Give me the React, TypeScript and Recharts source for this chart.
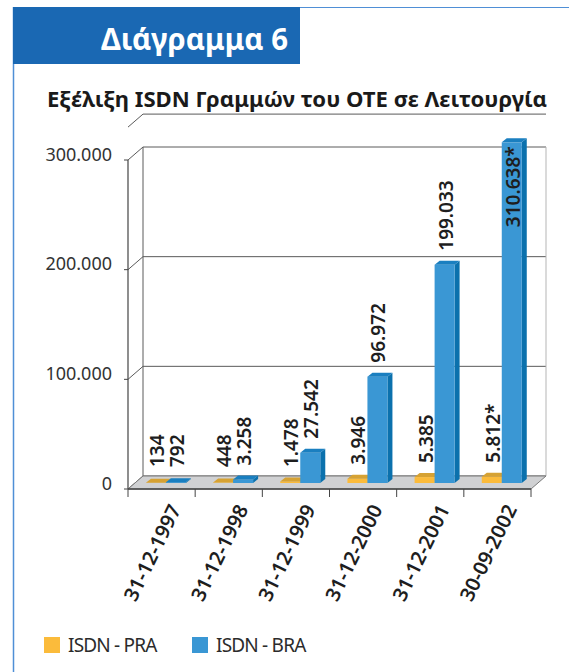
import React from 'react';
import { BarChart, Bar, XAxis, YAxis, CartesianGrid, ReferenceArea, LabelList } from 'recharts';

const categories = ['31-12-1997', '31-12-1998', '31-12-1999', '31-12-2000', '31-12-2001', '30-09-2002'];
const praValues = [134, 448, 1478, 3946, 5385, 5812];
const braValues = [792, 3258, 27542, 96972, 199033, 310638];
const praLabels = ['134', '448', '1.478', '3.946', '5.385', '5.812*'];
const braLabels = ['792', '3.258', '27.542', '96.972', '199.033', '310.638*'];
const yTicks = [0, 100000, 200000, 300000];
const yTickLabels = ['0', '100.000', '200.000', '300.000'];
const seriesNames = ['ISDN - PRA', 'ISDN - BRA'];

const data = categories.map((c, i) => ({
  cat: c,
  pra: praValues[i],
  bra: braValues[i],
  praLabel: praLabels[i],
  braLabel: braLabels[i],
}));

const FONT = '"Noto Sans", "DejaVu Sans", sans-serif';
const WALL_DX = 15;
const WALL_DY = 13;
const BAR_DX = 4.5;
const BAR_DY = 6;
const DEPTH_X = 5;
const DEPTH_Y = 4;

const PRA = { front: '#fbbb3b', side: '#d99b28', top: '#d6a233' };
const BRA = { front: '#3a97d4', side: '#0b71ad', top: '#1a7fc0' };

const make3DBar = (c: { front: string; side: string; top: string }) => (p: any) => {
  const { x, y, width, height } = p;
  if (x == null || y == null) return <g />;
  const fx = x + BAR_DX;
  const fy = y - BAR_DY;
  const h = Math.max(height || 0, 0);
  const w = width;
  return (
    <g>
      <polygon
        points={`${fx + w},${fy} ${fx + w + DEPTH_X},${fy - DEPTH_Y} ${fx + w + DEPTH_X},${fy + h - DEPTH_Y} ${fx + w},${fy + h}`}
        fill={c.side}
      />
      <rect x={fx} y={fy} width={w} height={h} fill={c.front} />
      <polygon
        points={`${fx},${fy} ${fx + DEPTH_X},${fy - DEPTH_Y} ${fx + w + DEPTH_X},${fy - DEPTH_Y} ${fx + w},${fy}`}
        fill={c.top}
      />
    </g>
  );
};

const makeLabel = () => (p: any) => {
  const { x, y, width, value } = p;
  if (x == null || y == null) return null;
  const cx = x + BAR_DX + width / 2 + 1;
  const tx = cx + 7;
  const top = y - BAR_DY;
  const txt = String(value);
  const estLen = txt.length * 10;
  let ty = Math.min(top - 14, 467);
  let anchor: 'start' | 'end' = 'start';
  if (ty - estLen < 120) {
    ty = top + 4;
    anchor = 'end';
  }
  return (
    <text
      x={tx}
      y={ty}
      transform={`rotate(-90, ${tx}, ${ty})`}
      textAnchor={anchor}
      fontSize={19}
      fontWeight={600}
      fill="#1e1e1e"
      fontFamily={FONT}
    >
      {txt}
    </text>
  );
};

const gridLine = (p: any) => {
  const { x1, y1, x2 } = p;
  return (
    <g key={p.key ?? `g-${y1}`}>
      <line x1={x1} y1={y1} x2={x1 + WALL_DX} y2={y1 - WALL_DY} stroke="#5a5a5a" strokeWidth={1} />
      <line x1={x1 + WALL_DX} y1={y1 - WALL_DY} x2={x2 + WALL_DX} y2={y1 - WALL_DY} stroke="#5a5a5a" strokeWidth={1} />
    </g>
  );
};

const Frame = (p: any) => {
  const { x, y, width, height } = p;
  if (x == null) return <g />;
  const b = y + height;
  const r = x + width;
  const n = categories.length;
  const ticks = [];
  for (let i = 0; i <= n; i++) {
    const tx = x + (i * width) / n;
    ticks.push(<line key={i} x1={tx} y1={b} x2={tx} y2={b + 8} stroke="#444" strokeWidth={1} />);
  }
  return (
    <g>
      <line x1={x + WALL_DX} y1={y - WALL_DY} x2={x + WALL_DX} y2={b - WALL_DY} stroke="#5a5a5a" strokeWidth={1} />
      <line x1={r + WALL_DX} y1={y - WALL_DY} x2={r + WALL_DX} y2={b - WALL_DY} stroke="#b5b5b5" strokeWidth={1} />
      <polygon
        points={`${x},${b} ${r},${b} ${r + WALL_DX},${b - WALL_DY} ${x + WALL_DX},${b - WALL_DY}`}
        fill="#d0d1d3"
        stroke="#7a7a7a"
        strokeWidth={1}
      />
      <line x1={x} y1={y} x2={x} y2={b} stroke="#444" strokeWidth={1.2} />
      <line x1={x} y1={b} x2={r} y2={b} stroke="#444" strokeWidth={1.5} />
      {ticks}
    </g>
  );
};

const YTick = (p: any) => {
  const { x, y, payload } = p;
  const idx = yTicks.indexOf(payload.value);
  const label = idx >= 0 ? yTickLabels[idx] : String(payload.value);
  return (
    <text x={x} y={y + 0.5} textAnchor="end" fontSize={18} fill="#333" fontFamily={FONT}>
      {label}
    </text>
  );
};

const XTick = (p: any) => {
  const { x, y, payload } = p;
  const tx = x + 20;
  const ty = y + 20;
  return (
    <text
      x={tx}
      y={ty}
      transform={`rotate(-64, ${tx}, ${ty})`}
      textAnchor="end"
      fontSize={20}
      fontWeight={600}
      fill="#1e1e1e"
      fontFamily={FONT}
    >
      {payload.value}
    </text>
  );
};

export default function App() {
  const legendColors = [PRA.front, BRA.front];
  const legendLefts = [44, 192];
  return (
    <div style={{ position: 'absolute', left: 0, top: 0, width: 569, height: 672, background: '#fff', fontFamily: FONT }}>
      <BarChart
        width={569}
        height={672}
        data={data}
        margin={{ top: 127.1, right: 38, bottom: 83, left: 18 }}
        barCategoryGap="20%"
        barGap={0}
      >
        <CartesianGrid vertical={false} horizontal={gridLine} />
        <ReferenceArea y1={0} y2={300000} shape={Frame} ifOverflow="visible" />
        <XAxis dataKey="cat" interval={0} tickLine={false} axisLine={false} height={100} tickSize={0} tickMargin={0} tick={XTick} />
        <YAxis
          domain={[0, 330000]}
          ticks={yTicks}
          interval={0}
          width={110}
          axisLine={false}
          tickLine={{ stroke: '#444' }}
          tickSize={4}
          tickMargin={12}
          tick={YTick}
        />
        <Bar dataKey="pra" name={seriesNames[0]} fill={PRA.front} shape={make3DBar(PRA)} isAnimationActive={false}>
          <LabelList dataKey="praLabel" content={makeLabel()} />
        </Bar>
        <Bar dataKey="bra" name={seriesNames[1]} fill={BRA.front} shape={make3DBar(BRA)} isAnimationActive={false}>
          <LabelList dataKey="braLabel" content={makeLabel()} />
        </Bar>
      </BarChart>
      {seriesNames.map((name, i) => (
        <div
          key={name}
          style={{ position: 'absolute', left: legendLefts[i], top: 637, display: 'flex', alignItems: 'center', height: 16 }}
        >
          <div style={{ width: 16, height: 16, background: legendColors[i] }} />
          <span style={{ marginLeft: 8, fontSize: 19, color: '#2b2b2b', lineHeight: '16px', letterSpacing: '-0.8px' }}>{name}</span>
        </div>
      ))}
      <svg width={569} height={672} style={{ position: 'absolute', left: 0, top: 0, pointerEvents: 'none' }}>
        <line x1={13.5} y1={7} x2={13.5} y2={672} stroke="#4f8fd6" strokeWidth={1.5} />
        <line x1={13} y1={7.5} x2={569} y2={7.5} stroke="#4f8fd6" strokeWidth={1} />
        <rect x={13} y={7} width={287} height={57} fill="#1a68b3" />
        <text x={101} y={50} fontSize={30} fontWeight={700} fill="#ffffff" fontFamily={FONT} textLength={187} lengthAdjust="spacingAndGlyphs">
          Διάγραμμα 6
        </text>
        <text x={47} y={107} fontSize={21} fontWeight={700} fill="#1a1a1a" fontFamily={FONT} textLength={500} lengthAdjust="spacingAndGlyphs">
          Εξέλιξη ISDN Γραμμών του ΟΤΕ σε Λειτουργία
        </text>
      </svg>
    </div>
  );
}
